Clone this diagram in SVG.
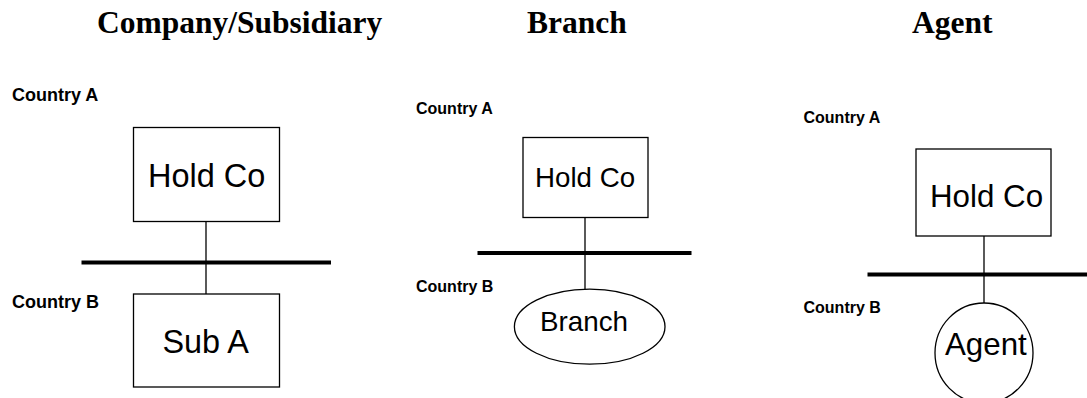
<svg xmlns="http://www.w3.org/2000/svg" width="1087" height="398" viewBox="0 0 1087 398">
<style>
.title{font-family:"Liberation Serif","Times New Roman",serif;font-weight:bold;font-size:31.5px;fill:#000}
.ctry{font-family:"Liberation Sans",Arial,sans-serif;font-weight:bold;fill:#000}
.lbl{font-family:"Liberation Sans",Arial,sans-serif;fill:#000}
.box{fill:#fff;stroke:#000;stroke-width:1.3}
.thin{stroke:#000;stroke-width:1.3;fill:none}
.thick{stroke:#000;stroke-width:4;fill:none}
</style>
<rect width="1087" height="398" fill="#fff"/>
<g id="titles">
<text class="title" x="97" y="33">Company/Subsidiary</text>
<text class="title" x="527" y="33">Branch</text>
<text class="title" x="912" y="33">Agent</text>
</g>
<g id="country-labels">
<text class="ctry" x="12" y="100.5" font-size="18">Country A</text>
<text class="ctry" x="12" y="307.5" font-size="18">Country B</text>
<text class="ctry" x="416" y="114" font-size="16">Country A</text>
<text class="ctry" x="416" y="291.5" font-size="16">Country B</text>
<text class="ctry" x="803.5" y="122.5" font-size="16">Country A</text>
<text class="ctry" x="803.5" y="313" font-size="16">Country B</text>
</g>
<g id="connectors">
<line class="thin" x1="206" y1="221.5" x2="206" y2="294"/>
<line class="thick" x1="81.5" y1="262.5" x2="331" y2="262.5"/>
<line class="thin" x1="585" y1="217" x2="585" y2="289.5"/>
<line class="thick" x1="477.5" y1="253" x2="691.5" y2="253"/>
<line class="thin" x1="984" y1="235.5" x2="984" y2="303"/>
<line class="thick" x1="867.5" y1="274.5" x2="1087" y2="274.5"/>
</g>
<g id="sub-holdco">
<rect class="box" x="133.5" y="127.5" width="146" height="94"/>
<text class="lbl" x="148" y="187.3" font-size="32.5">Hold Co</text>
</g>
<g id="sub-a">
<rect class="box" x="133.5" y="294" width="146" height="93"/>
<text class="lbl" x="162.5" y="352.7" font-size="32.4">Sub A</text>
</g>
<g id="branch-holdco">
<rect class="box" x="523" y="137.5" width="125" height="80"/>
<text class="lbl" x="535" y="186.7" font-size="27.7">Hold Co</text>
</g>
<g id="branch">
<ellipse class="box" cx="589.7" cy="326.7" rx="75.3" ry="37.5"/>
<text class="lbl" x="540" y="330.7" font-size="27.8">Branch</text>
</g>
<g id="agent-holdco">
<rect class="box" x="916" y="149" width="135" height="87"/>
<text class="lbl" x="930" y="206.7" font-size="31.3">Hold Co</text>
</g>
<g id="agent">
<ellipse class="box" cx="984" cy="353" rx="49" ry="50"/>
<text class="lbl" x="945" y="355" font-size="31.3">Agent</text>
</g>
</svg>
